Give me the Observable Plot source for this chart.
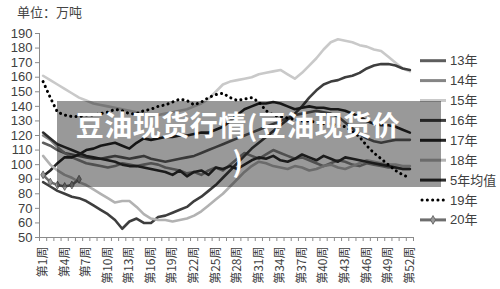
<!DOCTYPE html>
<html>
<head>
<meta charset="utf-8">
<script src="https://cdn.jsdelivr.net/npm/d3@7"></script>
<script src="https://cdn.jsdelivr.net/npm/@observablehq/plot@0.6"></script>
<style>
  html, body { margin: 0; padding: 0; background: #fff; }
  #wrap { position: relative; width: 500px; height: 289px; overflow: hidden; }
  #unit { position: absolute; left: 17px; top: 4px; font: 13px/16px "Noto Sans CJK SC", sans-serif; color: #444; }
  #band { position: absolute; left: 57px; top: 101px; width: 384px; height: 86px; background: rgba(0,0,0,0.4); }
  #title { position: absolute; left: 57px; top: 106px; width: 362px; text-align: center; color: #fff;
           font: bold 28px/36px "Noto Sans CJK SC", sans-serif; letter-spacing: 0.5px; white-space: nowrap; }
</style>
</head>
<body>
<div id="wrap">
  <div id="chart"></div>
  <div id="unit">单位：万吨</div>
  <div id="band"></div>
  <div id="title">豆油现货行情(豆油现货价<br>)</div>
</div>
<script>
// ---- data ----
const seriesNames = ["13年", "14年", "15年", "16年", "17年", "18年", "5年均值", "19年", "20年"];
const seriesColors = ["#5e5e5e", "#858585", "#c9c9c9", "#3e3e3e", "#262626", "#b2b2b2", "#2e2e2e", "#000000", "#6e6e6e"];

const s13 = [115,113,110,108,107,106,105,104,104,105,106,105,104,105,106,104,103,102,103,104,105,106,108,110,112,114,116,118,120,122,124,126,128,130,132,134,135,136,137,136,135,133,129,125,121,118,116,115,116,117,117,117];
const s14 = [120,117,112,108,105,103,101,100,99,98,99,101,100,99,100,101,100,98,97,96,94,95,93,96,98,96,100,104,108,106,104,107,110,108,106,104,105,103,101,99,101,103,102,100,99,101,100,99,98,98,97,97];
const s15 = [161,158,155,152,149,146,144,142,141,140,139,138,137,136,135,134,134,135,136,137,138,140,142,145,150,155,157,158,159,160,162,163,164,165,162,159,163,168,173,179,184,186,185,184,182,181,179,178,174,170,166,164];
const s16 = [88,85,82,80,78,77,75,72,69,66,62,56,61,63,60,60,64,65,67,69,71,75,78,82,86,91,96,101,106,111,115,119,123,127,131,135,140,146,151,155,157,158,160,161,163,166,168,169,169,168,166,165];
const s17 = [92,96,101,105,105,107,110,111,113,114,115,113,111,115,118,117,118,119,119,120,120,121,122,122,124,126,130,134,138,140,142,142,143,142,140,138,139,140,139,139,138,138,137,135,133,130,128,127,127,126,124,122];
const s18 = [106,100,96,93,91,88,86,83,80,77,74,75,75,71,66,63,62,62,61,62,63,65,68,72,76,80,85,90,95,99,102,101,99,98,97,99,98,96,97,99,100,98,97,99,101,103,102,101,100,100,99,99];
const sAvg = [122,118,114,112,110,108,106,105,104,103,102,100,99,99,98,97,96,95,93,96,92,95,96,93,98,97,99,97,100,103,105,104,106,103,102,104,107,105,103,106,104,102,105,104,103,102,101,100,99,98,97,97];
const s19 = [157,146,136,134,133,133,134,134,135,136,138,137,135,135,137,138,140,141,143,145,144,141,143,146,148,149,146,144,145,146,143,137,134,133,132,131,130,130,129,128,128,127,126,123,119,113,108,104,100,96,93,91];
const s20 = [93,88,86,85,86,90];

const yTicks = [50,60,70,80,90,100,110,120,130,140,150,160,170,180,190];
const xTickLabels = ["第1周","第4周","第7周","第10周","第13周","第16周","第19周","第22周","第25周","第28周","第31周","第34周","第37周","第40周","第43周","第46周","第49周","第52周"];
const xTickWeeks = [1,4,7,10,13,16,19,22,25,28,31,34,37,40,43,46,49,52];
const weekCount = 52;

// ---- build table ----
const seriesValues = [s13, s14, s15, s16, s17, s18, sAvg, s19, s20];
const rows = seriesNames.flatMap((name, k) =>
  seriesValues[k].map((v, i) => ({series: name, week: i + 1, value: v})));
const solidRows = rows.filter(d => d.series !== "19年" && d.series !== "20年");
const dotRows = rows.filter(d => d.series === "19年");
const r20 = rows.filter(d => d.series === "20年");
const boundaries = d3.range(0, weekCount + 1).map(i => i + 0.5);

const font = '"Liberation Sans", "Noto Sans CJK SC", sans-serif';

const chart = Plot.plot({
  width: 500,
  height: 289,
  marginLeft: 39,
  marginRight: 87,
  marginTop: 33,
  marginBottom: 52,
  style: {fontFamily: font, fontSize: "13px", color: "#404040", background: "transparent"},
  x: {domain: [0.5, weekCount + 0.5], axis: null},
  y: {domain: [50, 190], axis: null},
  color: {domain: seriesNames, range: seriesColors},
  marks: [
    Plot.axisY({ticks: yTicks, tickSize: 4, tickPadding: 3, stroke: "#8a8a8a", fontSize: 13, label: null, tickFormat: d => String(d)}),
    Plot.axisX({ticks: boundaries, tickSize: 4, label: null, tickFormat: () => "", stroke: "#8a8a8a"}),
    Plot.ruleX([0.5], {stroke: "#8a8a8a"}),
    Plot.ruleY([50], {stroke: "#8a8a8a"}),
    Plot.text(xTickLabels, {
      x: (d, i) => xTickWeeks[i], frameAnchor: "bottom", dy: 9, rotate: -90,
      textAnchor: "end", lineAnchor: "middle", fontSize: 12, fill: "#404040",
      fontFamily: '"Noto Sans CJK SC", sans-serif', text: d => d
    }),
    Plot.line(solidRows, {x: "week", y: "value", z: "series", stroke: "series", strokeWidth: 2.6, strokeLinejoin: "round"}),
    Plot.line(dotRows, {x: "week", y: "value", stroke: "series", strokeWidth: 3, strokeDasharray: "0.1,5.2", strokeLinecap: "round"}),
    Plot.line(r20, {x: "week", y: "value", stroke: "series", strokeWidth: 2.6}),
    Plot.dot(r20, {x: "week", y: "value", symbol: "diamond", r: 2.4, fill: "#9a9a9a", stroke: "#5a5a5a", strokeWidth: 0.8})
  ]
});
document.getElementById("chart").appendChild(chart);

// ---- legend (right side) ----
const svg = d3.select(chart);
const lg = svg.append("g").attr("font-family", font).attr("font-size", 13).attr("fill", "#404040")
  .attr("text-anchor", "start");
seriesNames.forEach((name, i) => {
  const cy = 60.7 + i * 19.9;
  const g = lg.append("g").attr("transform", `translate(0,${cy})`);
  const line = g.append("line").attr("x1", 420).attr("x2", 446).attr("y1", 0).attr("y2", 0)
    .attr("stroke", seriesColors[i]).attr("stroke-width", 3);
  if (name === "19年") line.attr("stroke-dasharray", "0.1,5.2").attr("stroke-linecap", "round").attr("x1", 422);
  if (name === "20年") {
    g.append("path").attr("d", d3.symbol(d3.symbolDiamond, 22)()).attr("transform", "translate(433,0)")
      .attr("fill", "#9a9a9a").attr("stroke", "#5a5a5a").attr("stroke-width", 0.8);
  }
  g.append("text").attr("x", 450).attr("y", 0).attr("dy", "0.35em").attr("text-anchor", "start").text(name);
});
</script>
</body>
</html>
